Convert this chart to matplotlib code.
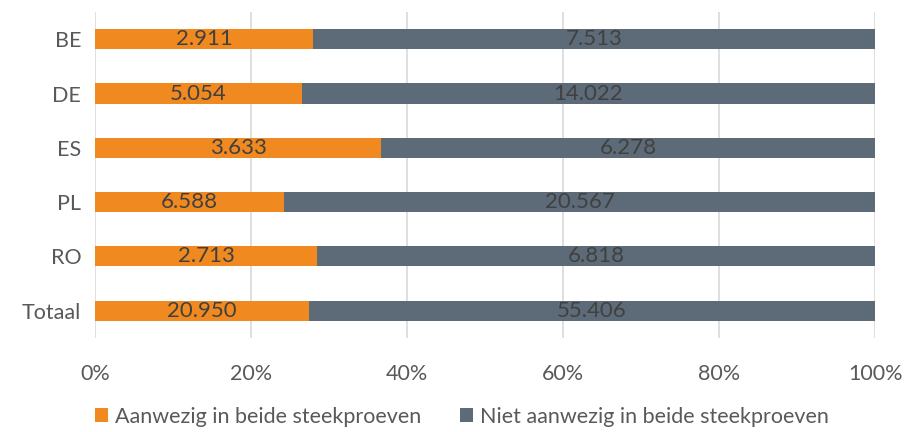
import matplotlib.pyplot as plt
import numpy as np

plt.rcParams['font.family'] = ['Lato', 'DejaVu Sans']

categories = ['BE', 'DE', 'ES', 'PL', 'RO', 'Totaal']
aanwezig = [2911, 5054, 3633, 6588, 2713, 20950]
niet_aanwezig = [7513, 14022, 6278, 20567, 6818, 55406]
series_names = ['Aanwezig in beide steekproeven', 'Niet aanwezig in beide steekproeven']

ORANGE = '#F0891F'
GREY = '#5D6B78'
TEXT = '#404040'
LABEL_TXT = '#595959'


def fmt(v):
    return f'{v:,}'.replace(',', '.')


def main():
    a = np.array(aanwezig, dtype=float)
    n = np.array(niet_aanwezig, dtype=float)
    tot = a + n
    pa = a / tot
    pn = n / tot
    y = np.arange(len(categories))

    fig = plt.figure(figsize=(9.05, 4.32), dpi=100)
    ax = fig.add_axes([0.105, 0.218, 0.862, 0.754])

    bh = 0.37
    ax.barh(y, pa, height=bh, color=ORANGE, label=series_names[0], zorder=2)
    ax.barh(y, pn, left=pa, height=bh, color=GREY, label=series_names[1], zorder=2)

    for i in range(len(categories)):
        ax.text(pa[i] / 2, y[i], fmt(aanwezig[i]), ha='center', va='center',
                fontsize=16, color=TEXT, zorder=3)
        ax.text(pa[i] + pn[i] / 2, y[i], fmt(niet_aanwezig[i]), ha='center', va='center',
                fontsize=16, color=TEXT, zorder=3)

    ax.set_xlim(0, 1)
    ax.set_ylim(len(categories) - 0.5, -0.5)
    ax.set_yticks(y)
    ax.set_yticklabels(categories)
    ax.set_xticks(np.linspace(0, 1, 6))
    ax.set_xticklabels([f'{int(v)}%' for v in np.linspace(0, 100, 6)])
    ax.tick_params(axis='both', length=0, labelsize=15.5, labelcolor=LABEL_TXT)
    ax.tick_params(axis='x', pad=19)
    ax.tick_params(axis='y', pad=10)
    ax.grid(axis='x', color='#D9D9D9', linewidth=1.2, zorder=0)
    for s in ax.spines.values():
        s.set_visible(False)

    fig.legend(loc='lower left', bbox_to_anchor=(0.086, -0.028), ncol=2, frameon=False,
               fontsize=15.5, labelcolor=LABEL_TXT, handlelength=0.62, handleheight=0.62,
               handletextpad=0.3, columnspacing=1.8, borderpad=0.3)

    fig.savefig('out.png', dpi=100)


if __name__ == '__main__':
    main()
